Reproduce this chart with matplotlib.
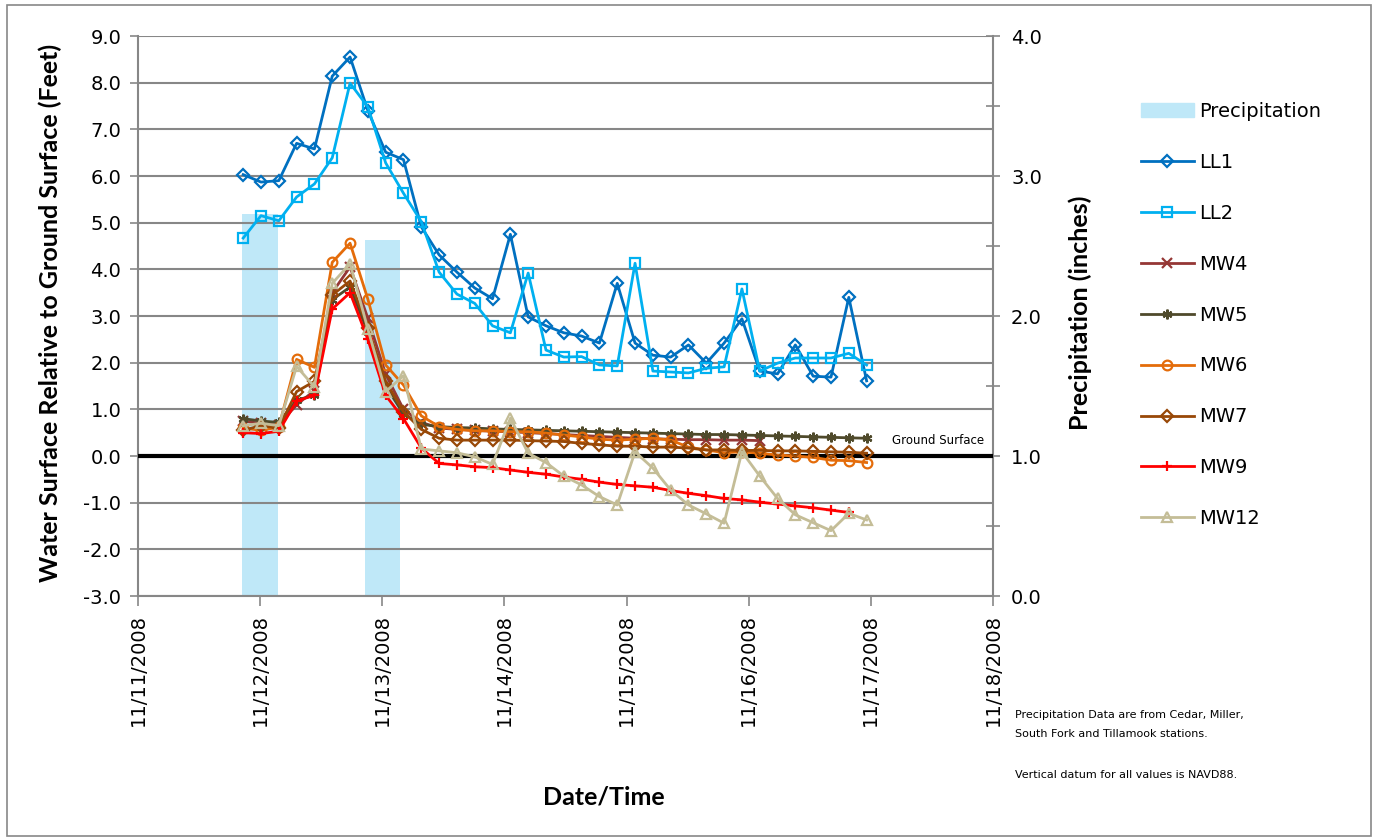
import numpy as np
import pandas as pd
import matplotlib
matplotlib.use('Agg')
import matplotlib.pyplot as plt
import matplotlib.dates as mdates
from matplotlib.ticker import MultipleLocator, FuncFormatter
from matplotlib.patches import Rectangle, Patch
from datetime import datetime

# ---- data ----
# readings every 3.5 hours starting on the evening of 11/11/2008
times = pd.date_range('2008-11-11 20:40', periods=36, freq='210min')

precip_dates = [datetime(2008, 11, 12), datetime(2008, 11, 13)]
precip_inches = [2.73, 2.54]

ll1 = [6.03, 5.87, 5.90, 6.70, 6.58, 8.14, 8.55, 7.40, 6.51, 6.35, 4.91, 4.31,
       3.94, 3.60, 3.37, 4.75, 2.98, 2.79, 2.64, 2.57, 2.42, 3.70, 2.42, 2.16,
       2.12, 2.38, 1.99, 2.42, 2.94, 1.82, 1.76, 2.38, 1.71, 1.69, 3.40, 1.61]
ll2 = [4.67, 5.15, 5.04, 5.55, 5.83, 6.39, 7.99, 7.48, 6.28, 5.63, 5.02, 3.94,
       3.47, 3.27, 2.79, 2.64, 3.92, 2.27, 2.12, 2.13, 1.95, 1.93, 4.13, 1.82,
       1.80, 1.78, 1.88, 1.91, 3.58, 1.82, 1.99, 2.10, 2.10, 2.10, 2.20, 1.95]
mw4 = [0.75, 0.70, 0.66, 1.10, 1.40, 3.50, 4.05, 2.95, 1.75, 1.00, 0.72, 0.60,
       0.57, 0.55, 0.53, 0.52, 0.50, 0.48, 0.46, 0.44, 0.42, 0.40, 0.38, 0.37,
       0.36, 0.35, 0.35, 0.34, 0.34, 0.33]
mw5 = [0.80, 0.75, 0.72, 1.20, 1.30, 3.35, 3.62, 2.65, 1.50, 0.90, 0.68, 0.63,
       0.61, 0.60, 0.58, 0.57, 0.56, 0.55, 0.54, 0.53, 0.52, 0.51, 0.50, 0.49,
       0.48, 0.47, 0.46, 0.46, 0.45, 0.44, 0.43, 0.42, 0.41, 0.40, 0.39, 0.38]
mw6 = [0.60, 0.55, 0.62, 2.07, 1.90, 4.15, 4.56, 3.36, 1.95, 1.52, 0.86, 0.63,
       0.57, 0.54, 0.54, 0.52, 0.52, 0.49, 0.45, 0.41, 0.36, 0.34, 0.36, 0.38,
       0.34, 0.19, 0.13, 0.07, 0.09, 0.06, 0.02, 0.00, -0.03, -0.09, -0.10, -0.14]
mw7 = [0.55, 0.65, 0.60, 1.38, 1.60, 3.45, 3.75, 2.75, 1.60, 0.95, 0.57, 0.38,
       0.34, 0.34, 0.34, 0.34, 0.33, 0.32, 0.31, 0.27, 0.24, 0.21, 0.21, 0.19,
       0.19, 0.17, 0.13, 0.13, 0.12, 0.12, 0.11, 0.11, 0.10, 0.09, 0.08, 0.06]
mw9 = [0.50, 0.48, 0.53, 1.18, 1.30, 3.15, 3.50, 2.50, 1.30, 0.80, 0.17, -0.16,
       -0.19, -0.23, -0.25, -0.30, -0.35, -0.39, -0.45, -0.50, -0.56, -0.61,
       -0.64, -0.67, -0.74, -0.80, -0.85, -0.91, -0.94, -0.99, -1.03, -1.07,
       -1.11, -1.16, -1.21]
mw12 = [0.65, 0.70, 0.65, 1.92, 1.48, 3.70, 4.12, 2.72, 1.38, 1.72, 0.15, 0.11,
        0.07, -0.02, -0.18, 0.81, 0.06, -0.14, -0.43, -0.62, -0.87, -1.05, 0.09,
        -0.26, -0.73, -1.05, -1.24, -1.44, 0.09, -0.43, -0.91, -1.26, -1.43,
        -1.60, -1.23, -1.37]

series = [
    ('LL1', ll1, '#0070C0', 'D'),
    ('LL2', ll2, '#00B0F0', 's'),
    ('MW4', mw4, '#953735', 'x'),
    ('MW5', mw5, '#4F4A2B', (6, 2, 0)),
    ('MW6', mw6, '#E46C0A', 'o'),
    ('MW7', mw7, '#984807', 'D'),
    ('MW9', mw9, '#FF0000', '+'),
    ('MW12', mw12, '#C4BD97', '^'),
]

grey = '#878787'
title_font = ['Lato', 'DejaVu Sans']
W, H = 1376, 838

fig = plt.figure(figsize=(W / 100, H / 100), dpi=100)
ax = fig.add_axes([138 / W, 1 - 596 / H, (993 - 138) / W, (596 - 36) / H])
axp = ax.twinx()
ax.set_zorder(axp.get_zorder() + 1)
ax.patch.set_visible(False)

# precipitation bars on the right axis
axp.bar(precip_dates, precip_inches, width=0.29, color='#BFE8F8', zorder=1)
axp.set_ylim(0, 4)
axp.yaxis.set_major_locator(MultipleLocator(0.5))
axp.yaxis.set_major_formatter(FuncFormatter(
    lambda v, p: '%.1f' % v if abs(v - round(v)) < 1e-6 else ''))
axp.tick_params(axis='y', direction='inout', length=10, width=1.2, color=grey,
                labelsize=14, pad=8)
axp.set_ylabel('Precipitation (inches)', fontsize=18, fontweight='bold',
               family=title_font)
axp.yaxis.set_label_coords(1.0877, 0.505)

# water levels on the left axis
handles = [Patch(color='#BFE8F8')]
labels = ['Precipitation']
for name, vals, col, mk in series:
    ln, = ax.plot(times[:len(vals)], vals, color=col, lw=2, marker=mk,
                  ms=6 if mk == 'D' else 7, mfc='none', mec=col, mew=1.6,
                  zorder=3)
    handles.append(ln)
    labels.append(name)

ax.axhline(0, color='black', lw=3, zorder=2.8)
ax.text(datetime(2008, 11, 17, 13, 10), 0.33, 'Ground Surface', fontsize=8.5,
        ha='center', va='center')

ax.set_ylim(-3, 9)
ax.yaxis.set_major_locator(MultipleLocator(1))
ax.yaxis.set_major_formatter(FuncFormatter(lambda v, p: '%.1f' % v))
ax.yaxis.grid(True, color=grey, lw=1.5)
ax.set_axisbelow(False)
ax.tick_params(axis='y', direction='out', length=6, width=1.2, color=grey,
               labelsize=14, pad=6)

ax.set_xlim(datetime(2008, 11, 11), datetime(2008, 11, 18))
ax.xaxis.set_major_locator(mdates.DayLocator())
ax.xaxis.set_major_formatter(mdates.DateFormatter('%m/%d/%Y'))
ax.tick_params(axis='x', direction='out', length=7, width=1.2, color=grey,
               labelsize=14, labelrotation=90, pad=6)

ax.set_ylabel('Water Surface Relative to Ground Surface (Feet)', fontsize=18,
              fontweight='bold', family=title_font)
ax.yaxis.set_label_coords(-0.0889, 0.505)
ax.set_xlabel('Date/Time', fontsize=18, fontweight='bold', family=title_font)
ax.xaxis.set_label_coords(0.545, -0.3375)

for a in (ax, axp):
    for s in a.spines.values():
        s.set_visible(False)
ax.spines['left'].set_visible(True)
ax.spines['bottom'].set_visible(True)
axp.spines['right'].set_visible(True)
for s in (ax.spines['left'], ax.spines['bottom'], axp.spines['right']):
    s.set_color(grey)
    s.set_linewidth(1.5)

fig.legend(handles, labels, loc='upper left', bbox_to_anchor=(1141 / W, 1 - 102 / H),
           frameon=False, fontsize=14, handlelength=2.7, handletextpad=0.3,
           labelspacing=1.64, borderpad=0, borderaxespad=0, numpoints=1)

fig.text(1015 / W, 1 - 715 / H, 'Precipitation Data are from Cedar, Miller,',
         fontsize=8, va='center')
fig.text(1015 / W, 1 - 734 / H, 'South Fork and Tillamook stations.',
         fontsize=8, va='center')
fig.text(1015 / W, 1 - 775 / H, 'Vertical datum for all values is NAVD88.',
         fontsize=8, va='center')

fig.patches.append(Rectangle((7 / W, 2 / H), (1371 - 7) / W, (836 - 5) / H,
                             transform=fig.transFigure, fill=False,
                             edgecolor=grey, lw=1.2))

fig.savefig('out.png', dpi=100)
